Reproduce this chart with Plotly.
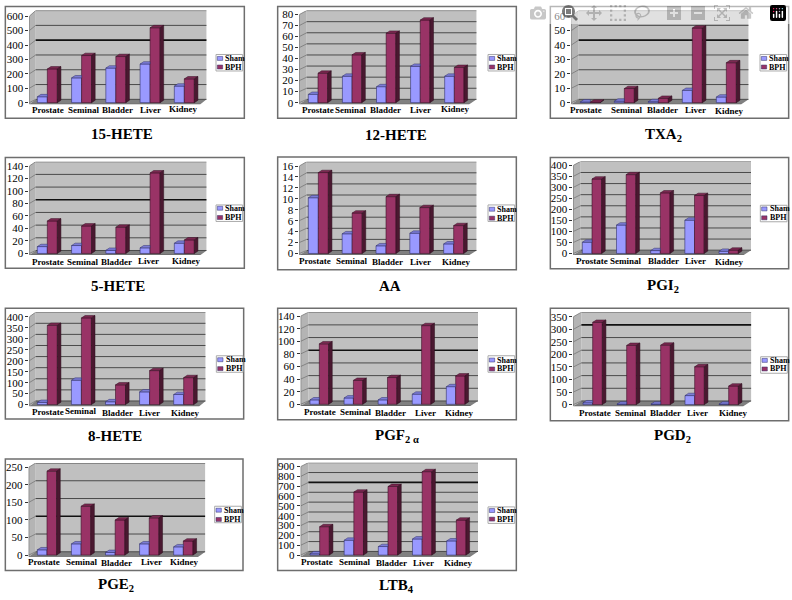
import plotly.graph_objects as go

categories = ["Prostate", "Seminal", "Bladder", "Liver", "Kidney"]
titles = ["15-HETE", "12-HETE", "TXA<sub>2</sub>", "5-HETE", "AA", "PGI<sub>2</sub>",
          "8-HETE", "PGF<sub>2 α</sub>", "PGD<sub>2</sub>", "PGE<sub>2</sub>", "LTB<sub>4</sub>"]
sham_15hete = [41, 172, 240, 268, 115]
bph_15hete = [234, 327, 320, 520, 165]
sham_12hete = [7.5, 24, 14.5, 33, 24]
bph_12hete = [26.7, 43.4, 63, 75, 32]
sham_txa2 = [0.5, 1, 0.7, 8.5, 3.9]
bph_txa2 = [0.3, 9.8, 3, 51.8, 27.7]
sham_5hete = [11, 12.7, 5, 9, 16.4]
bph_5hete = [52, 44, 42, 129, 21.7]
sham_aa = [10.2, 3.6, 1.4, 3.7, 1.75]
bph_aa = [14.8, 7.4, 10.4, 8.4, 5.1]
sham_pgi2 = [51, 129, 13, 151, 10]
bph_pgi2 = [338, 358, 275, 263, 15]
sham_8hete = [10, 111, 13, 58, 46]
bph_8hete = [361, 395, 90, 155, 123]
sham_pgf2a = [7, 10, 7, 16, 28]
bph_pgf2a = [96, 38, 42.5, 125, 45]
sham_pgd2 = [7, 2, 2, 36, 2]
bph_pgd2 = [328, 236, 237, 151, 74]
sham_pge2 = [15, 32, 7.5, 32, 23.5]
bph_pge2 = [239, 139, 100, 106, 40]
sham_ltb4 = [13, 151, 87, 164, 144]
bph_ltb4 = [289, 641, 698, 849, 356]
sham_all = [sham_15hete, sham_12hete, sham_txa2, sham_5hete, sham_aa, sham_pgi2,
            sham_8hete, sham_pgf2a, sham_pgd2, sham_pge2, sham_ltb4]
bph_all = [bph_15hete, bph_12hete, bph_txa2, bph_5hete, bph_aa, bph_pgi2,
           bph_8hete, bph_pgf2a, bph_pgd2, bph_pge2, bph_ltb4]
axis_max = [600, 80, 60, 140, 16, 400, 400, 140, 350, 250, 900]
axis_step = [100, 10, 10, 20, 2, 50, 50, 20, 50, 50, 100]
strong_grid = [400, None, 40, 80, None, None, None, 80, 300, 100, 700]

# ---- layout constants (pixels; zoomed-crop units divided by 3) ----
# origin x,y, frame L,T,R,B, axis x, wall L,R, wall top, zero y, top-tick y, first bar L, bar mid, last bar L
geom = [
    (0, 0, 16, 14, 733, 352, 88, 107, 620, 26, 305, 43, 112, 142, 523),
    (264, 0, 41, 14, 757, 352, 106, 128, 638, 26, 305, 38, 133, 162, 542),
    (528, 0, 67, 14, 782, 352, 130, 152, 662, 26, 305, 43, 157, 187, 565),
    (0, 150, 16, 21, 733, 357, 88, 107, 620, 34, 312, 47, 112, 142, 523),
    (264, 150, 41, 20, 757, 361, 106, 128, 638, 34, 312, 47, 133, 163, 539),
    (528, 150, 67, 21, 782, 358, 136, 158, 669, 33, 312, 45, 163, 192, 573),
    (0, 300, 16, 28, 731, 364, 88, 107, 617, 40, 320, 54, 112, 142, 521),
    (264, 300, 41, 28, 757, 366, 110, 133, 642, 40, 319, 52, 138, 166, 547),
    (528, 300, 67, 28, 782, 369, 136, 160, 670, 40, 320, 54, 165, 194, 573),
    (0, 450, 16, 35, 729, 373, 86, 107, 616, 47, 326, 60, 112, 141, 521),
    (264, 450, 41, 35, 757, 373, 110, 133, 642, 46, 326, 58, 138, 167, 548),
]
label_xy = [
    [(143, 327), (252, 326), (353, 327), (451, 326), (550, 323)],
    [(163, 326), (261, 326), (364, 326), (469, 326), (575, 323)],
    [(174, 327), (296, 327), (402, 328), (501, 327), (605, 331)],
    [(143, 337), (248, 339), (348, 338), (446, 335), (560, 335)],
    [(154, 335), (263, 335), (371, 338), (470, 338), (577, 338)],
    [(193, 336), (294, 336), (406, 336), (501, 336), (603, 338)],
    [(143, 342), (244, 340), (353, 344), (449, 344), (557, 344)],
    [(168, 342), (275, 342), (379, 344), (483, 344), (587, 344)],
    [(200, 345), (308, 344), (411, 345), (507, 345), (617, 345)],
    [(133, 348), (247, 348), (350, 349), (453, 347), (553, 347)],
    [(158, 348), (273, 348), (382, 351), (479, 351), (583, 351)],
]
title_xy = [(122, 133), (396, 134), (663, 134), (118, 287), (390, 287), (663, 287),
            (115, 438), (397, 438), (672, 438), (116, 589), (396, 590)]
legend_box = [(648, 159, 171, 197), (672, 159, 171, 197), (696, 159, 171, 197),
              (648, 165, 175, 203), (672, 165, 178, 205), (697, 166, 177, 204),
              (649, 172, 184, 211), (672, 172, 185, 212), (698, 175, 186, 212),
              (644, 178, 190, 218), (672, 180, 191, 217)]

SERIF = "Liberation Serif"
BPH, BPH_TOP, BPH_SIDE = "#993366", "#7A2850", "#4A1830"
SHAM, SHAM_TOP = "#9999FF", "#7C7CD6"
WALL, SIDEWALL, FLOOR = "#C0C0C0", "#B4B4B4", "#808080"
BAR_DX, BAR_DY = 3.6, 2.4  # bar depth in px


def px(x):
    return x / 792


def py(y):
    return 1 - y / 600


fig = go.Figure()
shapes, annos, axes = [], [], {}

for n, g in enumerate(geom):
    ox, oy, fl, ft, fr, fb, ax, wl, wr, wt, y0, ptop, b0, bm, b4 = g
    X = lambda v: ox + v / 3
    Y = lambda v: oy + v / 3
    suffix = "" if n == 0 else str(n + 1)
    xr, yr = f"x{suffix}", f"y{suffix}"

    shapes.append(dict(type="rect", xref="paper", yref="paper", layer="below",
                       x0=px(X(fl)), x1=px(X(fr)), y0=py(Y(ft)), y1=py(Y(fb)),
                       fillcolor="white", line=dict(color="#6E6E6E", width=1.5)))

    # axis scale: px-per-unit from the tick labels; the domain holds the whole 3-D box
    ymax, step = axis_max[n], axis_step[n]
    k = (Y(y0) - Y(ptop)) / ymax
    floor_y = Y(y0) + 5 / 3
    wall_bottom = Y(wt) + 269 / 3
    to_val = lambda p: (Y(y0) - p) / k
    cat_px = (X(b4) - X(b0)) / 4
    to_xd = lambda p: (p - X(ax)) / cat_px
    x_range = [0, to_xd(X(wr))]
    y_range = [to_val(floor_y), to_val(Y(wt))]
    axes[f"xaxis{suffix}"] = dict(domain=[px(X(ax)), px(X(wr))], range=x_range, anchor=yr,
                                  showticklabels=False, showgrid=False, zeroline=False, ticks="")
    ticks = list(range(0, ymax + 1, step))
    axes[f"yaxis{suffix}"] = dict(domain=[py(floor_y), py(Y(wt))], range=y_range, anchor=xr,
                                  tickmode="array", tickvals=ticks, ticktext=[str(t) for t in ticks],
                                  ticks="outside", ticklen=3, tickcolor="#333333", tickwidth=1,
                                  showgrid=False, zeroline=False, showline=False,
                                  tickfont=dict(family=SERIF, size=11, color="black"))

    # box walls and floor
    xw0, xw1 = to_xd(X(wl)), x_range[1]
    wall_v = lambda t: to_val(wall_bottom + (Y(wt) - wall_bottom) * t / ymax)
    vb, vt, vf = wall_v(0), wall_v(ymax), y_range[0]
    poly = lambda pts: "M " + " L ".join(f"{a},{b}" for a, b in pts) + " Z"
    shapes.append(dict(type="rect", xref=xr, yref=yr, layer="below", x0=xw0, x1=xw1, y0=vb, y1=vt,
                       fillcolor=WALL, line=dict(width=0)))
    shapes.append(dict(type="path", xref=xr, yref=yr, layer="below",
                       path=poly([(0, ymax), (xw0, vt), (xw0, vb), (0, vf)]),
                       fillcolor=SIDEWALL, line=dict(width=0)))
    shapes.append(dict(type="path", xref=xr, yref=yr, layer="below",
                       path=poly([(0, vf), (xw0, vb), (xw1, vb), (xw1 - xw0, vf)]),
                       fillcolor=FLOOR, line=dict(width=0)))
    for t in ticks:
        strong = t == strong_grid[n]
        line = dict(color="#111111" if strong else "#4A4A4A", width=1.6 if strong else 1)
        shapes.append(dict(type="line", xref=xr, yref=yr, layer="below",
                           x0=xw0, x1=xw1, y0=wall_v(t), y1=wall_v(t), line=line))
        shapes.append(dict(type="line", xref=xr, yref=yr, layer="below",
                           x0=0, x1=xw0, y0=t, y1=wall_v(t), line=dict(color="#777777", width=0.8)))
    shapes.append(dict(type="line", xref=xr, yref=yr, layer="below", x0=0, x1=0, y0=vf, y1=ymax,
                       line=dict(color="#555555", width=1)))
    shapes.append(dict(type="line", xref=xr, yref=yr, layer="below", x0=0, x1=xw1 - xw0, y0=vf, y1=vf,
                       line=dict(color="#555555", width=1)))

    # bars: front faces are bar traces, top/side faces are polygons tied to the values
    centers = [i + 0.5 for i in range(5)]
    bar_w = (X(bm) - X(b0)) / cat_px
    shift = to_xd(X(bm)) - 0.5
    bdx = BAR_DX / cat_px
    bdy = BAR_DY / k
    fig.add_trace(go.Bar(x=centers, y=sham_all[n], width=bar_w, offset=shift - bar_w, name="Sham",
                         marker=dict(color=SHAM, line=dict(color="#30306A", width=0.6)),
                         xaxis=xr, yaxis=yr, showlegend=False))
    fig.add_trace(go.Bar(x=centers, y=bph_all[n], width=bar_w, offset=shift, name="BPH",
                         marker=dict(color=BPH, line=dict(color="#3A1026", width=0.6)),
                         xaxis=xr, yaxis=yr, showlegend=False))
    st_x, st_y, bt_x, bt_y, bs_x, bs_y = [], [], [], [], [], []
    for c, s, b in zip(centers, sham_all[n], bph_all[n]):
        m = c + shift
        st_x += [m - bar_w, m - bar_w + bdx, m, m, m - bar_w, None]
        st_y += [s, s + bdy, s + bdy, s, s, None]
        bt_x += [m, m + bdx, m + bar_w + bdx, m + bar_w, m, None]
        bt_y += [b, b + bdy, b + bdy, b, b, None]
        bs_x += [m + bar_w, m + bar_w + bdx, m + bar_w + bdx, m + bar_w, m + bar_w, None]
        bs_y += [0, bdy, b + bdy, b, 0, None]
    for xs, ys, col, edge in [(st_x, st_y, SHAM_TOP, "#30306A"), (bt_x, bt_y, BPH_TOP, "#3A1026"),
                              (bs_x, bs_y, BPH_SIDE, "#2A0E1C")]:
        fig.add_trace(go.Scatter(x=xs, y=ys, mode="lines", fill="toself", fillcolor=col,
                                 line=dict(color=edge, width=0.5), hoverinfo="skip",
                                 showlegend=False, xaxis=xr, yaxis=yr))

    # category labels
    for name, (lx, ly) in zip(categories, label_xy[n]):
        annos.append(dict(text=f"<b>{name}</b>", xref="paper", yref="paper", x=px(X(lx)), y=py(Y(ly)),
                          xanchor="center", yanchor="middle", showarrow=False,
                          font=dict(family=SERIF, size=9, color="black")))
    # title
    annos.append(dict(text=f"<b>{titles[n]}</b>", xref="paper", yref="paper",
                      x=px(title_xy[n][0]), y=py(title_xy[n][1]), xanchor="center", yanchor="middle",
                      showarrow=False, font=dict(family=SERIF, size=15, color="black")))
    # legend
    lx, ly, r1, r2 = legend_box[n]
    shapes.append(dict(type="rect", xref="paper", yref="paper", layer="above",
                       x0=px(X(lx)), x1=px(X(lx + 80)), y0=py(Y(ly)), y1=py(Y(ly + 50)),
                       fillcolor="white", line=dict(color="#AAAAAA", width=1)))
    for row, col, label in [(r1, SHAM, "Sham"), (r2, BPH, "BPH")]:
        shapes.append(dict(type="rect", xref="paper", yref="paper", layer="above",
                           x0=px(X(lx + 4)), x1=px(X(lx + 20)), y0=py(Y(row - 6)), y1=py(Y(row + 6)),
                           fillcolor=col, line=dict(color="#30306A", width=0.5)))
        annos.append(dict(text=f"<b>{label}</b>", xref="paper", yref="paper",
                          x=px(X(lx + 25)), y=py(Y(row)), xanchor="left", yanchor="middle",
                          showarrow=False, xshift=-1, font=dict(family=SERIF, size=8, color="black")))

fig.update_layout(width=792, height=600, margin=dict(l=0, r=0, t=0, b=0),
                  paper_bgcolor="white", plot_bgcolor="rgba(0,0,0,0)", barmode="overlay",
                  showlegend=False, shapes=shapes, annotations=annos, **axes)

fig.write_html("out.html", post_script="document.body.style.margin='0';")
